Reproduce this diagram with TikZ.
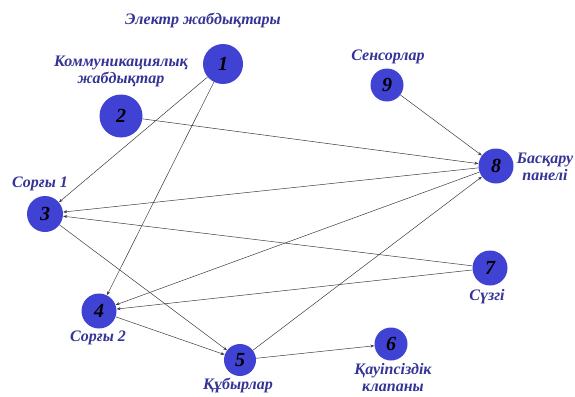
\documentclass[tikz,border=0pt]{standalone}
\usepackage{fontspec}
\setmainfont{Liberation Serif}
\newfontfamily\boldit{Liberation Serif Bold Italic}
\usetikzlibrary{arrows.meta}
\definecolor{nodeblue}{RGB}{64,66,212}
\definecolor{labelblue}{RGB}{52,52,150}
\definecolor{edgegray}{RGB}{60,60,60}
\tikzset{
  unit/.style={circle,fill=nodeblue,inner sep=0pt,
    font=\boldit\fontsize{20}{20}\selectfont},
  caption/.style={text=labelblue,align=center,inner sep=0pt,
    font=\boldit\fontsize{16}{17}\selectfont},
  link/.style={draw=edgegray,line width=0.5pt,
    -{Stealth[length=4pt,width=3pt]}}
}
\begin{document}
\begin{tikzpicture}[x=1pt,y=-1pt]
  \useasboundingbox (0,0) rectangle (575,396);

  %nodes
  \node[unit,minimum size=40pt] (n1) at (223,64) {1};
  \node[unit,minimum size=43pt] (n2) at (121,116) {2};
  \node[unit,minimum size=36pt] (n3) at (45,214) {3};
  \node[unit,minimum size=35pt] (n4) at (99,311) {4};
  \node[unit,minimum size=32pt] (n5) at (240,360) {5};
  \node[unit,minimum size=33pt] (n6) at (391,344) {6};
  \node[unit,minimum size=35pt] (n7) at (490,268) {7};
  \node[unit,minimum size=35pt] (n8) at (496,166) {8};
  \node[unit,minimum size=33pt] (n9) at (387,85) {9};

  %captions
  \node[caption] (t1) at (203,20) {Электр жабдықтары};
  \node[caption] (t2) at (121,71) {Коммуникациялық\\жабдықтар};
  \node[caption] (t3) at (40,184) {Сорғы 1};
  \node[caption] (t4) at (98,338) {Сорғы 2};
  \node[caption] (t5) at (238,385) {Құбырлар};
  \node[caption] (t6) at (393,378) {Қауіпсіздік\\клапаны};
  \node[caption] (t7) at (487,297) {Сүзгі};
  \node[caption] (t8) at (545,167) {Басқару\\панелі};
  \node[caption] (t9) at (388,57) {Сенсорлар};

  %links
  \draw[link] (n1) to (n3);
  \draw[link] (n1) to (n4);
  \draw[link] (n2) to (n8);
  \draw[link] (n9) to (n8);
  \draw[link] (n5) to (n8);
  \draw[link] (n8) to (n3);
  \draw[link] (n8) to (n4);
  \draw[link] (n7) to (n3);
  \draw[link] (n7) to (n4);
  \draw[link] (n3) to (n5);
  \draw[link] (n4) to (n5);
  \draw[link] (n5) to (n6);
\end{tikzpicture}
\end{document}
